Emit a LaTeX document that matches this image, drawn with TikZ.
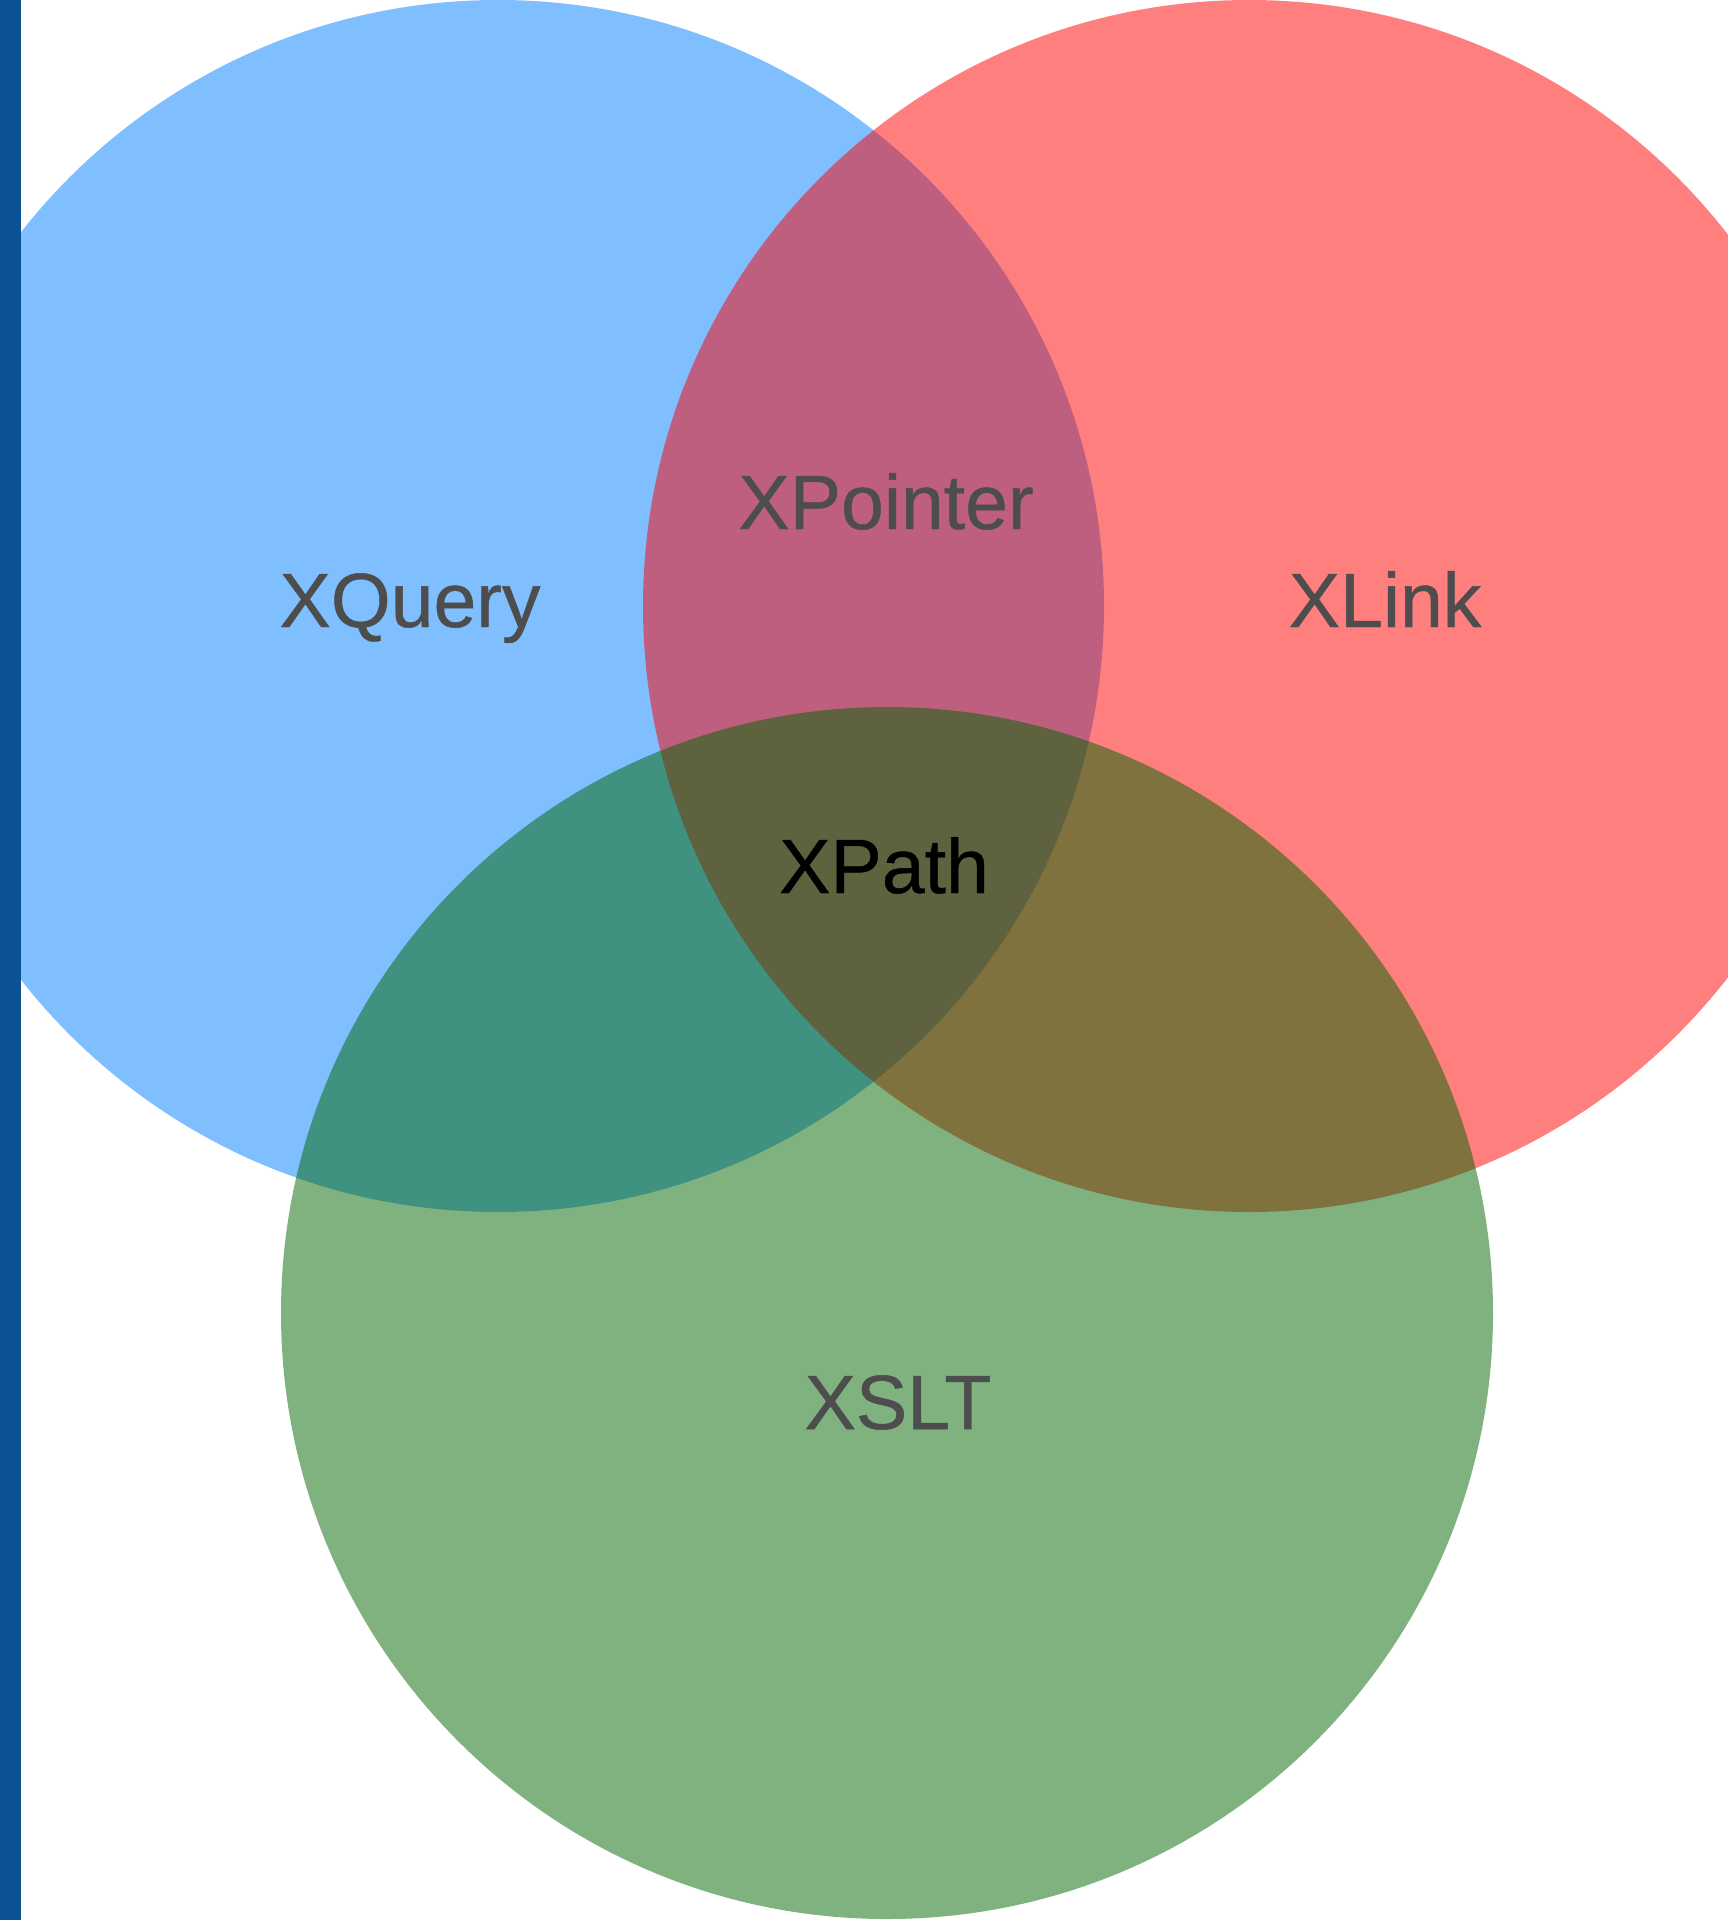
\documentclass[tikz,border=0pt]{standalone}
\usepackage{fontspec}
\setmainfont{Liberation Sans}
\newfontfamily\setlabelfont[FakeBold=0.6]{Liberation Sans}
\definecolor{cblue}{HTML}{0080FF}
\definecolor{cred}{HTML}{FF0000}
\definecolor{cgreen}{HTML}{006600}
\definecolor{barblue}{HTML}{0A5293}
\definecolor{txtgray}{HTML}{4D4D4D}
\tikzset{
  setcircle/.style={circle, minimum size=1212pt, inner sep=0pt, draw=none, fill opacity=0.5},
  setlabel/.style={anchor=base, inner sep=0pt, text=txtgray, font=\setlabelfont\fontsize{77}{92}\selectfont},
}
\begin{document}
\begin{tikzpicture}[x=1pt,y=-1pt]
\useasboundingbox (0,0) rectangle (1728,1920);
\clip (0,0) rectangle (1728,1920);
\fill[white] (0,0) rectangle (1728,1920);
\node[setcircle, fill=cblue] (query) at (498,606) {};
\node[setcircle, fill=cred] (link) at (1249,606) {};
\node[setcircle, fill=cgreen] (xslt) at (887,1313) {};
\fill[barblue] (0,0) rectangle (21,1920);
\node[setlabel] (lquery) at (410,627) {XQuery};
\node[setlabel] (lpointer) at (886,529) {XPointer};
\node[setlabel] (llink) at (1385,627) {XLink};
\node[setlabel, text=black] (lpath) at (884,893) {XPath};
\node[setlabel] (lxslt) at (898,1429) {XSLT};
\end{tikzpicture}
\end{document}
